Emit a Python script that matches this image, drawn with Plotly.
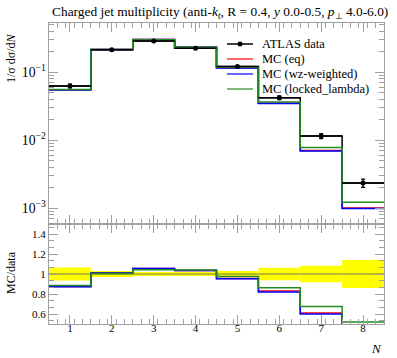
import plotly.graph_objects as go

# ---- data ----
bin_edges = [0.5, 1.5, 2.5, 3.5, 4.5, 5.5, 6.5, 7.5, 8.5]
bin_centers = [1, 2, 3, 4, 5, 6, 7, 8]
data_vals = [0.063, 0.215, 0.288, 0.225, 0.122, 0.0423, 0.01156, 0.00236]
data_relerr = [0.065, 0.03, 0.02, 0.02, 0.03, 0.062, 0.083, 0.14]
mc_eq = [0.0552, 0.217, 0.304, 0.233, 0.1165, 0.0351, 0.00705, 0.00101]
mc_wz = [0.0550, 0.217, 0.304, 0.233, 0.1161, 0.0347, 0.00694, 0.00099]
mc_locked = [0.0558, 0.216, 0.300, 0.234, 0.119, 0.0365, 0.00781, 0.00123]
x_ticks = [1, 2, 3, 4, 5, 6, 7, 8]
legend_labels = ["ATLAS data", "MC (eq)", "MC (wz-weighted)", "MC (locked_lambda)"]

FONT = "Liberation Serif"
AXC = "#a0a0a0"
TF = dict(family=FONT, size=11, color="black")

# plot area geometry (px)
L, R, T, B = 49, 13, 23, 34
W, H = 397, 358
PW, PH = W - L - R, H - T - B
def px(x):
    return (x - L) / PW
def py(y):
    return (H - B - y) / PH

def step_y(vals):
    return list(vals) + [vals[-1]]

fig = go.Figure()

# ---- main panel ----
fig.add_trace(go.Scatter(x=bin_edges, y=step_y(data_vals), mode="lines", line_shape="hv",
                         line=dict(color="black", width=1.5), showlegend=False,
                         xaxis="x", yaxis="y"))
mc_series = [(legend_labels[1], mc_eq, "#ff0000"), (legend_labels[2], mc_wz, "#0000ff"),
             (legend_labels[3], mc_locked, "#228b22")]
for name, vals, col in mc_series:
    fig.add_trace(go.Scatter(x=bin_edges, y=step_y(vals), mode="lines", line_shape="hv",
                             line=dict(color=col, width=1.5), showlegend=False,
                             xaxis="x", yaxis="y"))
data_abserr = [v * e for v, e in zip(data_vals, data_relerr)]
fig.add_trace(go.Scatter(x=bin_centers, y=data_vals, mode="markers",
                         marker=dict(color="black", size=5),
                         error_y=dict(type="data", array=data_abserr, color="black", thickness=1.3, width=2),
                         error_x=dict(type="constant", value=0.5, color="black", thickness=1.5, width=0),
                         showlegend=False, xaxis="x", yaxis="y"))

# ---- ratio panel ----
fig.add_trace(go.Bar(x=bin_centers, y=[2 * e for e in data_relerr], base=[1 - e for e in data_relerr],
                     width=1.0, marker=dict(color="#ffff00", line=dict(width=0)),
                     showlegend=False, xaxis="x2", yaxis="y2"))
fig.add_trace(go.Scatter(x=bin_edges, y=step_y([v / v for v in data_vals]), mode="lines", line_shape="hv",
                         line=dict(color="#777755", width=1), showlegend=False, xaxis="x2", yaxis="y2"))
for name, vals, col in mc_series:
    r = [m / d for m, d in zip(vals, data_vals)]
    fig.add_trace(go.Scatter(x=bin_edges, y=step_y(r), mode="lines", line_shape="hv",
                             line=dict(color=col, width=1.5), showlegend=False,
                             xaxis="x2", yaxis="y2", cliponaxis=True))

# ---- manual legend ----
shapes = []
annotations = []
leg_cols = ["black", "#ff0000", "#0000ff", "#228b22"]
for i, (lab, col) in enumerate(zip(legend_labels, leg_cols)):
    yy = 44 + 15 * i
    shapes.append(dict(type="line", xref="paper", yref="paper", x0=px(227), x1=px(253),
                       y0=py(yy), y1=py(yy), line=dict(color=col, width=1.5 if i == 0 else 1.2)))
    annotations.append(dict(text=lab, xref="paper", yref="paper", x=px(260), y=py(yy),
                            xanchor="left", yanchor="middle", showarrow=False,
                            font=dict(family=FONT, size=12.5, color="black")))
    if i == 0:
        shapes.append(dict(type="circle", xref="paper", yref="paper", x0=px(237.5), x1=px(242.5),
                           y0=py(yy + 2.5), y1=py(yy - 2.5), fillcolor="black", line=dict(width=0)))

annotations += [
    dict(text="Charged jet multiplicity (anti-<i>k</i><sub><i>t</i></sub>, R = 0.4, <i>y</i> 0.0-0.5, <i>p</i><sub>⊥</sub> 4.0-6.0)",
         xref="paper", yref="paper", x=px(50), y=py(12), xanchor="left", yanchor="middle",
         showarrow=False, font=dict(family=FONT, size=13.4)),
    dict(text="1/σ dσ/d<i>N</i>", xref="paper", yref="paper", x=px(11), y=py(58),
         xanchor="center", yanchor="middle", textangle=-90, showarrow=False, font=dict(family=FONT, size=12)),
    dict(text="MC/data", xref="paper", yref="paper", x=px(11), y=py(273),
         xanchor="center", yanchor="middle", textangle=-90, showarrow=False, font=dict(family=FONT, size=12)),
    dict(text="<i>N</i>", xref="paper", yref="paper", x=px(384), y=py(348),
         xanchor="right", yanchor="middle", showarrow=False, font=dict(family=FONT, size=13)),
]

split = 100 / PH
common_x = dict(range=[0.5, 8.5], ticks="inside", ticklen=9, tickcolor=AXC, tickwidth=1,
                tickvals=x_ticks, showline=True, linecolor=AXC, linewidth=1, mirror="ticks",
                showgrid=False, zeroline=False, automargin=False,
                minor=dict(ticks="inside", ticklen=5, dtick=0.2, tick0=0.5, tickcolor=AXC, showgrid=False))

fig.update_layout(
    width=W, height=H,
    margin=dict(l=L, r=R, t=T, b=B),
    plot_bgcolor="white", paper_bgcolor="white",
    font=dict(family=FONT, size=11, color="black"),
    barmode="overlay",
    showlegend=False,
    xaxis=dict(common_x, anchor="y", showticklabels=False),
    yaxis=dict(type="log", domain=[split, 1], range=[-3.231, -0.275], anchor="x",
               ticks="inside", ticklen=9, tickcolor=AXC, showline=True, linecolor=AXC, mirror="ticks",
               showgrid=False, zeroline=False, dtick=1, exponentformat="power", automargin=False,
               tickfont=TF,
               minor=dict(ticks="inside", ticklen=5, dtick="D1", tickcolor=AXC, showgrid=False)),
    xaxis2=dict(common_x, anchor="y2", showticklabels=True, tickfont=TF, ticklabelstandoff=-6),
    yaxis2=dict(domain=[0, split], range=[0.5, 1.5], anchor="x2", automargin=False,
                ticks="inside", ticklen=9, tickcolor=AXC, showline=True, linecolor=AXC, mirror="ticks",
                showgrid=False, zeroline=False, tick0=0.6, dtick=0.2, tickfont=TF,
                minor=dict(ticks="inside", ticklen=5, dtick=0.2 / 3, tick0=0, tickcolor=AXC, showgrid=False)),
    shapes=shapes,
    annotations=annotations,
)

fig.write_html("out.html", config={"displayModeBar": False},
               post_script="document.body.style.margin='0';document.body.style.padding='0';")
